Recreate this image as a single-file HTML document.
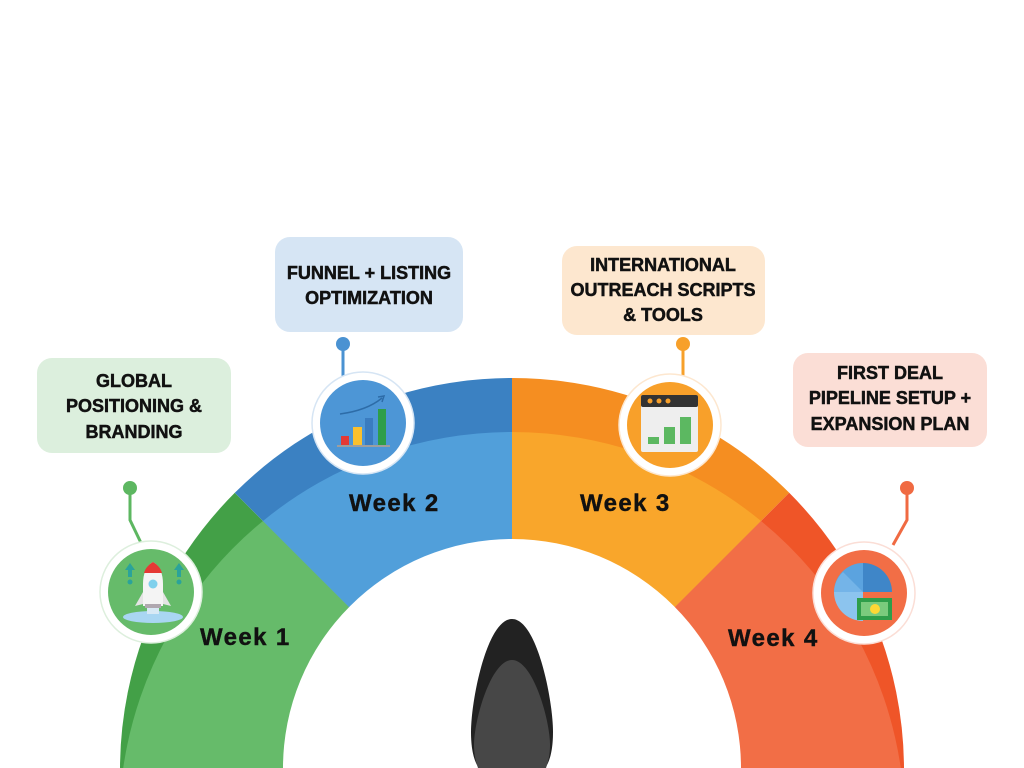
<!DOCTYPE html>
<html>
<head>
<meta charset="utf-8">
<style>
  html, body { margin:0; padding:0; background:#ffffff; width:1024px; height:768px; overflow:hidden; }
  svg { display:block; }
  .lbl { font-family:"Liberation Sans", Arial, sans-serif; font-weight:bold; font-size:18px; fill:#111; stroke:#111; stroke-width:0.5; text-anchor:middle; }
  .wk { font-family:"Liberation Sans", Arial, sans-serif; font-weight:bold; font-size:24px; fill:#111; stroke:#111; stroke-width:0.4; letter-spacing:1.4px; }
</style>
</head>
<body>
<svg width="1024" height="768" viewBox="0 0 1024 768" xmlns="http://www.w3.org/2000/svg">
  <!-- Dark outer bands -->
  <path d="M510,768 L120,768 A392,392 0 0,1 234.8,492.8 Z" fill="#43A047"/>
  <path d="M510,768 L234.8,492.8 A392,392 0 0,1 512,378 L512,768 Z" fill="#3B81C2"/>
  <path d="M512,768 L512,378 A392,392 0 0,1 789.2,492.8 L514,768 Z" fill="#F58E21"/>
  <path d="M514,768 L789.2,492.8 A392,392 0 0,1 904,768 Z" fill="#EF5528"/>

  <!-- Light inner bands -->
  <path d="M510,768 L123.2,768 A393,393 0 0,1 262.97,520.97 Z" fill="#66BB6A"/>
  <path d="M510,768 L262.97,520.97 A393,393 0 0,1 512,432 L512,768 Z" fill="#519FDA"/>
  <path d="M512,768 L512,432 A393,393 0 0,1 761.03,520.97 L514,768 Z" fill="#F9A62B"/>
  <path d="M514,768 L761.03,520.97 A393,393 0 0,1 900.8,768 Z" fill="#F26E46"/>

  <!-- White inner -->
  <path d="M283,768 A229,229 0 0,1 741,768 Z" fill="#ffffff"/>

  <!-- Needle -->
  <path d="M512,619 C537,619 553,700 553,732 C553,752 549,763 545,768 L479,768 C475,763 471,752 471,732 C471,700 487,619 512,619 Z" fill="#222222"/>
  <path d="M512,660 C533,660 550,720 550,745 C550,755 548,762 546,768 L478,768 C476,762 474,755 474,745 C474,720 491,660 512,660 Z" fill="#474747"/>

  <!-- Label boxes -->
  <rect x="37" y="358" width="194" height="95" rx="15" fill="#DCEFDD"/>
  <text class="lbl" x="134" y="387">GLOBAL</text>
  <text class="lbl" x="134" y="412">POSITIONING &amp;</text>
  <text class="lbl" x="134" y="438">BRANDING</text>

  <rect x="275" y="237" width="188" height="95" rx="15" fill="#D6E5F4"/>
  <text class="lbl" x="369" y="279">FUNNEL + LISTING</text>
  <text class="lbl" x="369" y="304">OPTIMIZATION</text>

  <rect x="562" y="246" width="203" height="89" rx="15" fill="#FDE7CF"/>
  <text class="lbl" x="663" y="271">INTERNATIONAL</text>
  <text class="lbl" x="663" y="296">OUTREACH SCRIPTS</text>
  <text class="lbl" x="663" y="321">&amp; TOOLS</text>

  <rect x="793" y="353" width="194" height="94" rx="15" fill="#FBDED6"/>
  <text class="lbl" x="890" y="379">FIRST DEAL</text>
  <text class="lbl" x="890" y="404">PIPELINE SETUP +</text>
  <text class="lbl" x="890" y="430">EXPANSION PLAN</text>

  <!-- Connectors -->
  <polyline points="130,488 130,520 142,545" fill="none" stroke="#5DB761" stroke-width="3"/>
  <circle cx="130" cy="488" r="7" fill="#5DB761"/>
  <line x1="343" y1="344" x2="343" y2="376" stroke="#4A92D2" stroke-width="3"/>
  <circle cx="343" cy="344" r="7" fill="#4A92D2"/>
  <line x1="683" y1="344" x2="683" y2="377" stroke="#F7A02A" stroke-width="3"/>
  <circle cx="683" cy="344" r="7" fill="#F7A02A"/>
  <polyline points="907,488 907,520 893,545" fill="none" stroke="#F06A42" stroke-width="3"/>
  <circle cx="907" cy="488" r="7" fill="#F06A42"/>

  <!-- Icon 1: rocket -->
  <circle cx="151" cy="592" r="51" fill="#ffffff" stroke="#DDEFDD" stroke-width="1.5"/>
  <circle cx="151" cy="592" r="43" fill="#66BB6A"/>
  <ellipse cx="153" cy="617" rx="30" ry="6" fill="#A9D6F2"/>
  <rect x="147" y="604" width="12" height="10" fill="#D8E9F5"/>
  <path d="M135,606 L143,592 L143,604 Z" fill="#E4E4E4"/>
  <path d="M171,606 L163,592 L163,604 Z" fill="#E4E4E4"/>
  <path d="M153,562 C160,566 163,574 163,584 L163,606 L143,606 L143,584 C143,574 146,566 153,562 Z" fill="#F4F4F4"/>
  <path d="M153,562 C158,565 161,569 162,573 L144,573 C145,569 148,565 153,562 Z" fill="#E53935"/>
  <rect x="145" y="604" width="16" height="4" fill="#B0A8B0"/>
  <circle cx="153" cy="584" r="4.5" fill="#7FD0EC"/>
  <path d="M130,563 L135,570 L132,570 L132,577 L128,577 L128,570 L125,570 Z" fill="#2BA39A"/>
  <circle cx="130" cy="582" r="2.5" fill="#2BA39A"/>
  <path d="M179,563 L184,570 L181,570 L181,577 L177,577 L177,570 L174,570 Z" fill="#2BA39A"/>
  <circle cx="179" cy="582" r="2.5" fill="#2BA39A"/>

  <!-- Icon 2: bar chart -->
  <circle cx="363" cy="423" r="51" fill="#ffffff" stroke="#D6E5F4" stroke-width="1.5"/>
  <circle cx="363" cy="423" r="43" fill="#4D96D6"/>
  <path d="M340,414 C355,412 370,408 382,398" fill="none" stroke="#2D6CA8" stroke-width="1.5"/>
  <path d="M378,397 L384,396 L382,402" fill="none" stroke="#2D6CA8" stroke-width="1.5"/>
  <rect x="341" y="436" width="8" height="9" fill="#E53935"/>
  <rect x="353" y="427" width="9" height="18" fill="#FBC02D"/>
  <rect x="365" y="418" width="8" height="27" fill="#3A7CC0"/>
  <rect x="378" y="409" width="8" height="36" fill="#2E9E4A"/>
  <rect x="337" y="445" width="53" height="2" fill="#9E9E9E"/>

  <!-- Icon 3: browser chart -->
  <circle cx="670" cy="425" r="51" fill="#ffffff" stroke="#FDE7CF" stroke-width="1.5"/>
  <circle cx="670" cy="425" r="43" fill="#F8A02A"/>
  <rect x="641" y="395" width="57" height="57" rx="2" fill="#EEEEEE"/>
  <rect x="641" y="395" width="57" height="12" rx="2" fill="#333333"/>
  <circle cx="650" cy="401" r="2.5" fill="#F8A02A"/>
  <circle cx="659" cy="401" r="2.5" fill="#F8A02A"/>
  <circle cx="668" cy="401" r="2.5" fill="#F8A02A"/>
  <rect x="648" y="437" width="11" height="7" fill="#5CB861"/>
  <rect x="664" y="427" width="11" height="17" fill="#5CB861"/>
  <rect x="680" y="417" width="11" height="27" fill="#5CB861"/>

  <!-- Icon 4: pie + money -->
  <circle cx="864" cy="593" r="51" fill="#ffffff" stroke="#FBDED6" stroke-width="1.5"/>
  <circle cx="864" cy="593" r="43" fill="#F26E46"/>
  <path d="M863,592 L863,563 A29,29 0 0,1 892,592 Z" fill="#3F86C8"/>
  <path d="M863,592 L863,563 A29,29 0 0,0 834,592 Z" fill="#5BA3DF"/>
  <path d="M863,592 L834,592 A29,29 0 0,0 863,621 Z" fill="#8CC4EE"/>
  <path d="M863,592 L843,572 A29,29 0 0,0 834,592 Z" fill="#74B4E8"/>
  <rect x="857" y="598" width="35" height="22" fill="#2E9E4A"/>
  <rect x="861" y="602" width="27" height="14" fill="#7ACB7D"/>
  <circle cx="875" cy="609" r="5" fill="#FDD835"/>

  <!-- Week labels -->
  <text class="wk" x="200" y="645">Week 1</text>
  <text class="wk" x="349" y="511">Week 2</text>
  <text class="wk" x="580" y="511">Week 3</text>
  <text class="wk" x="728" y="646">Week 4</text>
</svg>
</body>
</html>
